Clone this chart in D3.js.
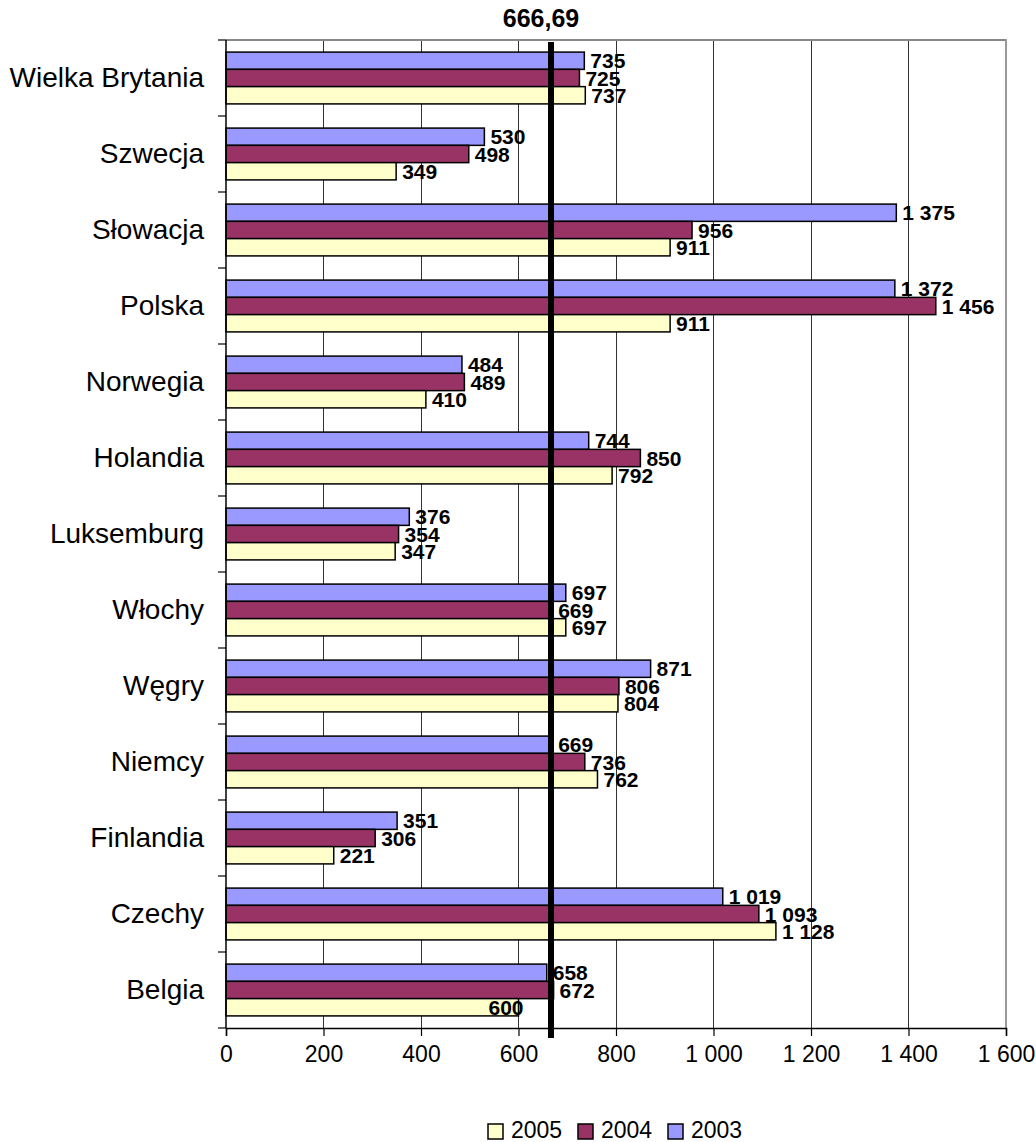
<!DOCTYPE html>
<html><head><meta charset="utf-8">
<script src="https://cdn.jsdelivr.net/npm/d3@7"></script>
<style>body{margin:0;background:#fff}svg{display:block}</style>
</head><body>
<svg id="c" width="1036" height="1142"></svg>
<script>
const categories = ["Wielka Brytania","Szwecja","Słowacja","Polska","Norwegia","Holandia","Luksemburg","Włochy","Węgry","Niemcy","Finlandia","Czechy","Belgia"];
const values2003 = [735,530,1375,1372,484,744,376,697,871,669,351,1019,658];
const values2004 = [725,498,956,1456,489,850,354,669,806,736,306,1093,672];
const values2005 = [737,349,911,911,410,792,347,697,804,762,221,1128,600];
const seriesNames = ["2003","2004","2005"];
const legendOrder = ["2005","2004","2003"];
const xTicks = [0,200,400,600,800,1000,1200,1400,1600];
const averageValue = 666.69;
const averageLabel = "666,69";

const colors = {"2003":"#9999FF","2004":"#993366","2005":"#FFFFCC"};
const seriesValues = {"2003":values2003,"2004":values2004,"2005":values2005};

const loc = d3.formatLocale({decimal:",", thousands:" ", grouping:[3], currency:["",""]});
const fmt = loc.format(",d");

const svg = d3.select("#c");
const L = 226, R = 1006, T = 40, B = 1028;
const x = d3.scaleLinear().domain([0,1600]).range([L,R]);
const y = d3.scaleBand().domain(categories).range([T,B]);
const inner = d3.scaleBand().domain(seriesNames).range([0, y.bandwidth()]).paddingOuter(0.7).paddingInner(0);

// gridlines
svg.append("g").selectAll("line").data(xTicks.filter(d=>d>0 && d<1600)).join("line")
  .attr("x1",d=>x(d)).attr("x2",d=>x(d)).attr("y1",T).attr("y2",B)
  .attr("stroke","#333").attr("stroke-width",1).attr("shape-rendering","crispEdges");

// plot border top/right
svg.append("line").attr("x1",L).attr("x2",R).attr("y1",T).attr("y2",T).attr("stroke","#888").attr("stroke-width",2);
svg.append("line").attr("x1",R).attr("x2",R).attr("y1",T-1).attr("y2",B).attr("stroke","#999").attr("stroke-width",2);

// bars
const rows = [];
categories.forEach((c,i)=>seriesNames.forEach(s=>rows.push({c,s,v:seriesValues[s][i]})));
svg.append("g").selectAll("rect").data(rows).join("rect")
  .attr("x",x(0)).attr("y",d=>y(d.c)+inner(d.s))
  .attr("width",d=>x(d.v)-x(0)).attr("height",inner.bandwidth())
  .attr("fill",d=>colors[d.s]).attr("stroke","#000").attr("stroke-width",1.5);

// value labels
svg.append("g").selectAll("text").data(rows).join("text")
  .attr("x",d=> (d.c==="Belgia"&&d.s==="2005") ? x(d.v)+5 : x(d.v)+6)
  .attr("text-anchor",d=> (d.c==="Belgia"&&d.s==="2005") ? "end" : "start")
  .attr("y",d=>y(d.c)+inner(d.s)+inner.bandwidth()/2)
  .attr("dy","0.36em")
  .attr("font-family","Liberation Sans, Arial, sans-serif").attr("font-weight","bold").attr("font-size",21)
  .attr("fill","#000").text(d=>fmt(d.v));

// x axis
const xAxis = d3.axisBottom(x).tickValues(xTicks).tickSize(8).tickPadding(10).tickFormat(d=>fmt(d));
const gx = svg.append("g").attr("transform",`translate(0,${B})`).call(xAxis);
gx.select(".domain").attr("stroke","#000").attr("stroke-width",1.5);
gx.selectAll(".tick line").attr("stroke","#000").attr("stroke-width",1.2);
gx.selectAll("text").attr("font-family","Liberation Sans, Arial, sans-serif").attr("font-size",23).attr("fill","#000");

// y axis
const gy = svg.append("g").attr("transform",`translate(${L},0)`);
gy.append("line").attr("x1",0).attr("x2",0).attr("y1",T).attr("y2",B).attr("stroke","#000").attr("stroke-width",1.5);
const bounds = categories.map(c=>y(c)).concat([B]);
gy.selectAll(".tk").data(bounds).join("line").attr("class","tk")
  .attr("x1",-8).attr("x2",0).attr("y1",d=>d).attr("y2",d=>d).attr("stroke","#000").attr("stroke-width",1.2);
gy.selectAll(".lb").data(categories).join("text").attr("class","lb")
  .attr("x",-22).attr("y",d=>y(d)+y.bandwidth()/2).attr("dy","0.33em")
  .attr("text-anchor","end").attr("font-family","Liberation Sans, Arial, sans-serif").attr("font-size",28).attr("fill","#000")
  .text(d=>d);

// average line
svg.append("line").attr("x1",x(averageValue)).attr("x2",x(averageValue)).attr("y1",T+2).attr("y2",B+10)
  .attr("stroke","#000").attr("stroke-width",6);
svg.append("text").attr("x",x(averageValue)-10).attr("y",27).attr("text-anchor","middle")
  .attr("font-family","Liberation Sans, Arial, sans-serif").attr("font-weight","bold").attr("font-size",25)
  .text(averageLabel);

// legend
const legX = [488,578,668];
const lg = svg.append("g").selectAll("g").data(legendOrder).join("g")
  .attr("transform",(d,i)=>`translate(${legX[i]},1124)`);
lg.append("rect").attr("width",15).attr("height",15).attr("fill",d=>colors[d]).attr("stroke","#000").attr("stroke-width",1.5);
lg.append("text").attr("x",23).attr("y",14).attr("font-family","Liberation Sans, Arial, sans-serif").attr("font-size",23).text(d=>d);
</script>
</body></html>
